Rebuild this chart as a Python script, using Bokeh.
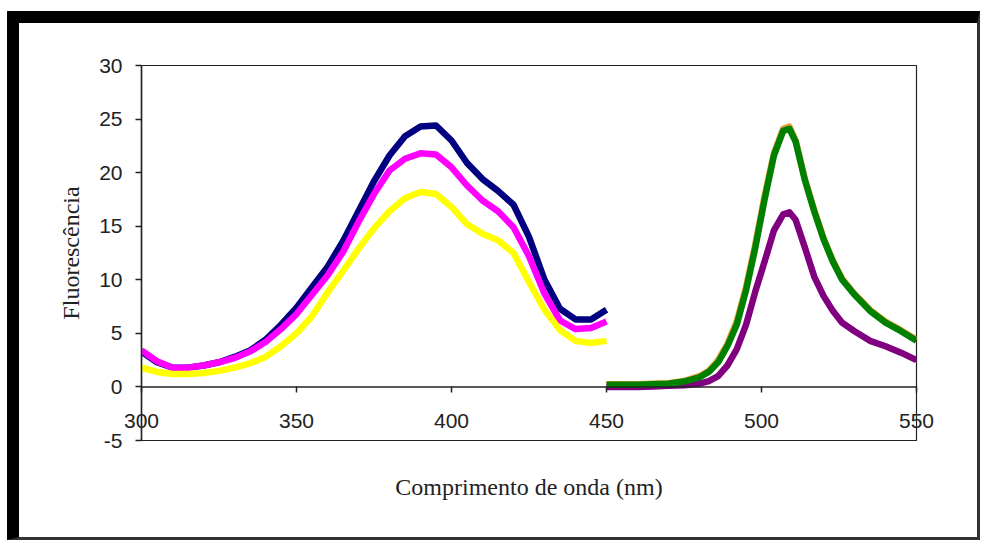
from bokeh.plotting import figure
from bokeh.models import Range1d, FixedTicker, Span
from bokeh.layouts import column
from bokeh.embed import file_html
from bokeh.resources import INLINE

# ---- data ----
wl_left = [300, 305, 310, 315, 320, 325, 330, 335, 340, 345, 350, 355, 360, 365, 370,
           375, 380, 385, 390, 395, 400, 405, 410, 415, 420, 425, 430, 435, 440, 445, 450]
navy_vals = [3.3, 2.3, 1.8, 1.8, 2.0, 2.3, 2.8, 3.4, 4.4, 5.8, 7.4, 9.3, 11.2, 13.6, 16.4,
             19.2, 21.6, 23.4, 24.3, 24.4, 23.0, 20.9, 19.4, 18.3, 17.0, 14.0, 10.0, 7.3, 6.3, 6.3, 7.2]
magenta_vals = [3.4, 2.4, 1.8, 1.8, 2.0, 2.3, 2.7, 3.3, 4.2, 5.4, 6.8, 8.6, 10.4, 12.6, 15.4,
                18.0, 20.2, 21.3, 21.8, 21.7, 20.5, 18.8, 17.4, 16.4, 14.9, 12.2, 8.7, 6.2, 5.4, 5.5, 6.1]
yellow_vals = [1.8, 1.4, 1.2, 1.2, 1.3, 1.5, 1.8, 2.2, 2.8, 3.8, 5.0, 6.6, 8.8, 10.8, 12.9,
               14.8, 16.4, 17.6, 18.2, 18.0, 16.8, 15.2, 14.3, 13.7, 12.5, 9.8, 7.2, 5.3, 4.3, 4.1, 4.3]

wl_right = [450, 455, 460, 465, 470, 475, 480, 483, 486, 489, 492, 495, 498, 501, 504,
            507, 509, 511, 514, 517, 520, 523, 526, 530, 535, 540, 545, 550]
orange_vals = [0.25, 0.25, 0.25, 0.3, 0.35, 0.55, 1.0, 1.5, 2.5, 4.0, 6.1, 9.3, 13.3, 17.8, 21.8,
               24.1, 24.3, 23.0, 19.4, 16.5, 13.9, 11.8, 10.1, 8.7, 7.2, 6.1, 5.3, 4.4]
green_vals = [0.2, 0.2, 0.2, 0.25, 0.3, 0.5, 0.9, 1.4, 2.3, 3.8, 5.8, 9.0, 13.0, 17.5, 21.6,
              23.9, 24.1, 22.9, 19.3, 16.4, 13.8, 11.7, 10.0, 8.6, 7.1, 6.0, 5.2, 4.3]
purple_vals = [0.0, 0.0, 0.0, 0.05, 0.1, 0.15, 0.3, 0.55, 1.0, 2.0, 3.5, 5.8, 8.9, 11.7, 14.6,
               16.1, 16.3, 15.6, 13.0, 10.3, 8.5, 7.1, 6.0, 5.2, 4.3, 3.8, 3.2, 2.5]

x_ticks = [300, 350, 400, 450, 500, 550]
y_ticks = [-5, 0, 5, 10, 15, 20, 25, 30]
y_tick_labels = ["-5", "0", "5", "10", "15", "20", "25", "30"]
x_title = "Comprimento de onda (nm)"
y_title = "Fluorescência"

# ---- figure ----
FRAME_H = 375
p = figure(width=958, height=514, output_backend="svg", toolbar_location=None,
           x_range=Range1d(300, 550), y_range=Range1d(-5, 30),
           min_border_left=122, min_border_right=61, min_border_top=42, min_border_bottom=97)
p.background_fill_color = "white"
p.border_fill_color = "white"
p.outline_line_color = "#222222"
p.outline_line_width = 1.2
p.grid.visible = False

LW = 6.5
p.line(wl_left, navy_vals, line_color="#000080", line_width=LW, line_join="round")
p.line(wl_left, magenta_vals, line_color="#FF00FF", line_width=LW, line_join="round")
p.line(wl_left, yellow_vals, line_color="#FFFF00", line_width=LW, line_join="round")
p.line(wl_right, orange_vals, line_color="#E8A030", line_width=LW, line_join="round")
p.line(wl_right, purple_vals, line_color="#800080", line_width=LW, line_join="round")
p.line(wl_right, green_vals, line_color="#008000", line_width=LW, line_join="round")

# zero line (x axis crosses at 0)
p.add_layout(Span(location=0, dimension="width", line_color="#222222", line_width=1.5))

tick_font = "Liberation Sans"
title_font = "Liberation Serif"

xa = p.xaxis[0]
xa.ticker = FixedTicker(ticks=x_ticks)
zero_px = int(round(FRAME_H * 5 / 35.0))
xa.major_tick_in = zero_px
xa.major_tick_out = -(zero_px - 6)
xa.minor_tick_line_color = None
xa.major_label_standoff = -27
xa.major_label_text_font = tick_font
xa.major_label_text_font_size = "21px"
xa.major_label_text_color = "#222222"
xa.axis_line_color = "#222222"
xa.major_tick_line_color = "#222222"
xa.major_tick_line_width = 1.5
xa.axis_label = x_title
xa.axis_label_text_font = title_font
xa.axis_label_text_font_style = "normal"
xa.axis_label_text_font_size = "24px"
xa.axis_label_text_color = "#222222"
xa.axis_label_standoff = 43

ya = p.yaxis[0]
ya.ticker = FixedTicker(ticks=y_ticks)
ya.major_label_overrides = {t: s for t, s in zip(y_ticks, y_tick_labels)}
ya.major_tick_in = 0
ya.major_tick_out = 6
ya.minor_tick_line_color = None
ya.major_label_standoff = 13
ya.major_label_text_font = tick_font
ya.major_label_text_font_size = "21px"
ya.major_label_text_color = "#222222"
ya.axis_line_color = "#222222"
ya.axis_line_width = 1.5
ya.major_tick_line_color = "#222222"
ya.major_tick_line_width = 1.5
ya.axis_label = y_title
ya.axis_label_text_font = title_font
ya.axis_label_text_font_style = "normal"
ya.axis_label_text_font_size = "24px"
ya.axis_label_text_color = "#222222"
ya.axis_label_standoff = 12

layout = column(p, styles={
    "margin-left": "7px", "margin-top": "11px",
    "border-left": "12px solid black", "border-top": "12px solid black",
    "border-right": "3px solid #333333", "border-bottom": "3px solid #333333",
    "background-color": "white",
})

open("out.html", "w").write(file_html(layout, INLINE))
